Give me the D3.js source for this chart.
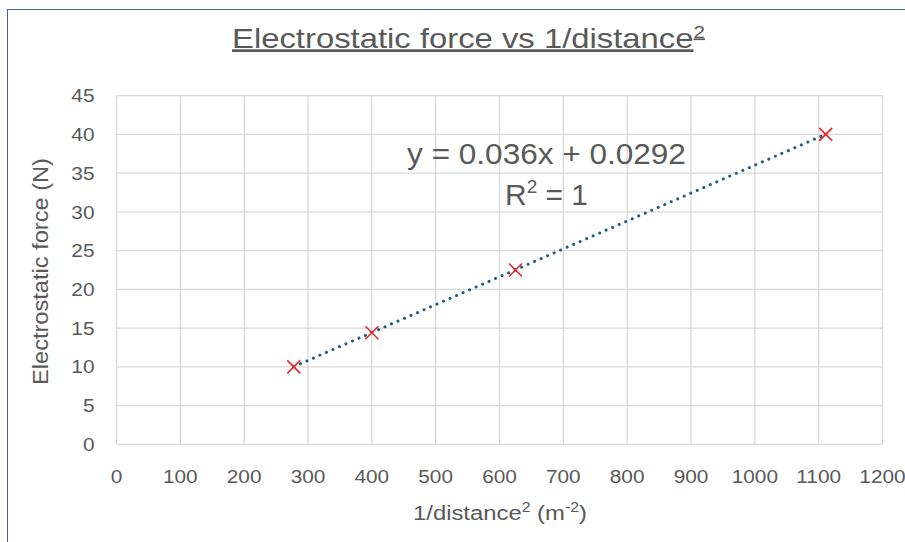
<!DOCTYPE html>
<html><head><meta charset="utf-8">
<script src="https://cdn.jsdelivr.net/npm/d3@7"></script>
<style>body{margin:0;background:#fff}svg{display:block}</style>
</head><body>
<svg id="c" width="905" height="542"></svg>
<script>
const invDist2 = [277.8, 400, 625, 1111.1];
const force = [10, 14.4, 22.5, 40];
const xTicks = [0,100,200,300,400,500,600,700,800,900,1000,1100,1200];
const yTicks = [0,5,10,15,20,25,30,35,40,45];
const slope = 0.036, intercept = 0.0292;

const svg = d3.select("#c");
const gray = "#595959";
const font = "'Liberation Sans', Arial, sans-serif";
svg.append("rect").attr("x",7.5).attr("y",9.5).attr("width",905).attr("height",540)
  .attr("fill","#fff").attr("stroke","#44648f").attr("stroke-width",1);

const x = d3.scaleLinear().domain([0,1200]).range([116.5,882.5]);
const y = d3.scaleLinear().domain([0,45]).range([444.3,95.7]);

// place text group at (cx,cy) with rotation, scaled horizontally to target width
function fitted(cx, cy, target, rot) {
  const g = svg.append("g");
  const t = g.append("text").attr("text-anchor","middle").attr("font-family",font).attr("fill",gray);
  return {t, done(){
    const w = t.node().getBBox().width;
    const s = target ? target / w : 1;
    g.attr("transform", `translate(${cx},${cy}) rotate(${rot||0}) scale(${s},1)`);
  }};
}

const g = svg.append("g");
g.selectAll("line.vx").data(xTicks).join("line")
  .attr("x1",d=>x(d)).attr("x2",d=>x(d)).attr("y1",y(0)).attr("y2",y(45))
  .attr("stroke","#d9d9d9").attr("stroke-width",1.3);
g.selectAll("line.hy").data(yTicks).join("line")
  .attr("x1",x(0)).attr("x2",x(1200)).attr("y1",d=>y(d)).attr("y2",d=>y(d))
  .attr("stroke","#d9d9d9").attr("stroke-width",1.3);

const tickScale = 1.12;
g.selectAll("text.yt").data(yTicks).join("text")
  .attr("transform",d=>`translate(94.5,${y(d)+6.6}) scale(${tickScale},1)`)
  .attr("text-anchor","end")
  .attr("font-family",font).attr("font-size",18.6).attr("fill",gray).text(d=>d);
g.selectAll("text.xt").data(xTicks).join("text")
  .attr("transform",d=>`translate(${x(d)},483) scale(${tickScale},1)`)
  .attr("text-anchor","middle")
  .attr("font-family",font).attr("font-size",18.6).attr("fill",gray).text(d=>d);

// trendline
const x0 = d3.min(invDist2), x1 = d3.max(invDist2);
g.append("line").attr("x1",x(x0)).attr("y1",y(slope*x0+intercept))
  .attr("x2",x(x1)).attr("y2",y(slope*x1+intercept))
  .attr("stroke","#1f5f7f").attr("stroke-width",3).attr("stroke-linecap","round")
  .attr("stroke-dasharray","0.1 7");

// markers
const pts = invDist2.map((v,i)=>[v,force[i]]);
const s = 6.5;
g.selectAll("path.m").data(pts).join("path")
  .attr("d",d=>{const cx=x(d[0]),cy=y(d[1]);return `M${cx-s},${cy-s}L${cx+s},${cy+s}M${cx-s},${cy+s}L${cx+s},${cy-s}`;})
  .attr("stroke","#e8262a").attr("stroke-width",1.6).attr("fill","none");

// equation
const eq = fitted(546.5, 163.5, 279);
eq.t.attr("font-size",30).text("y = 0.036x + 0.0292"); eq.done();
const r2 = fitted(546.5, 205, 83);
r2.t.attr("font-size",30);
r2.t.append("tspan").text("R");
r2.t.append("tspan").attr("dy",-12).attr("font-size",19).text("2");
r2.t.append("tspan").attr("dy",12).text(" = 1");
r2.done();

// title
const title = fitted(468.5, 47.5, 473);
title.t.attr("font-size",27).attr("text-decoration","underline");
title.t.append("tspan").text("Electrostatic force vs 1/distance");
title.t.append("tspan").attr("dy",-10).attr("font-size",17).text("2");
title.done();

// axis titles
const xt = fitted(500, 520, 174);
xt.t.attr("font-size",21);
xt.t.append("tspan").text("1/distance");
xt.t.append("tspan").attr("dy",-8).attr("font-size",14).text("2");
xt.t.append("tspan").attr("dy",8).text(" (m");
xt.t.append("tspan").attr("dy",-8).attr("font-size",14).text("-2");
xt.t.append("tspan").attr("dy",8).text(")");
xt.done();

const yt = fitted(48, 271.5, 227, -90);
yt.t.attr("font-size",21.5).text("Electrostatic force (N)");
yt.done();
</script>
</body></html>
